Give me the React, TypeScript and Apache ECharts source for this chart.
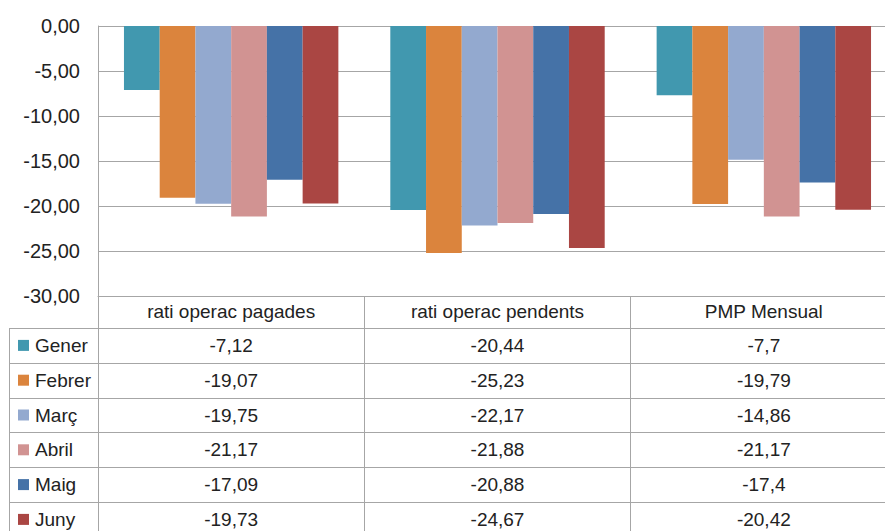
import React, { useEffect, useRef } from "react";
import * as echarts from "echarts";

const categories = ["rati operac pagades", "rati operac pendents", "PMP Mensual"];
const months = ["Gener", "Febrer", "Març", "Abril", "Maig", "Juny"];
const gener = [-7.12, -20.44, -7.7];
const febrer = [-19.07, -25.23, -19.79];
const marc = [-19.75, -22.17, -14.86];
const abril = [-21.17, -21.88, -21.17];
const maig = [-17.09, -20.88, -17.4];
const juny = [-19.73, -24.67, -20.42];
const tableLabels = [
  ["-7,12", "-20,44", "-7,7"],
  ["-19,07", "-25,23", "-19,79"],
  ["-19,75", "-22,17", "-14,86"],
  ["-21,17", "-21,88", "-21,17"],
  ["-17,09", "-20,88", "-17,4"],
  ["-19,73", "-24,67", "-20,42"],
];
const colors = ["#4198AF", "#DB843D", "#93A9CF", "#D19392", "#4572A7", "#AA4643"];
const yMin = -30;
const yMax = 0;
const yInterval = 5;

const FONT = "Liberation Sans";
const W = 900;
const H = 531;
const GL = 98;
const GR = 3;
const GT = 26;
const GB = 296;
const ROW0 = 328;
const ROWH = 34.8;
const TABLE_LEFT = 9;
const LINE = "#a6a6a6";
const TEXT = "#222";

export default function App() {
  const ref = useRef<HTMLDivElement>(null);
  useEffect(() => {
    if (!ref.current) return;
    const chart = echarts.init(ref.current, undefined, { renderer: "svg" });
    const seriesData = [gener, febrer, marc, abril, maig, juny];
    const gridW = W - GL - GR;
    const catW = gridW / categories.length;
    const right = W - GR;

    const graphics: any[] = [];
    for (let k = 0; k <= months.length; k++) {
      const y = Math.round(ROW0 + k * ROWH) + 0.5;
      graphics.push({
        type: "line",
        shape: { x1: TABLE_LEFT, y1: y, x2: right, y2: y },
        style: { stroke: LINE, lineWidth: 1 },
        silent: true,
      });
    }
    graphics.push({
      type: "line",
      shape: { x1: TABLE_LEFT + 0.5, y1: ROW0, x2: TABLE_LEFT + 0.5, y2: H },
      style: { stroke: LINE, lineWidth: 1 },
      silent: true,
    });
    months.forEach((m, i) => {
      const cy = ROW0 + (i + 0.5) * ROWH;
      graphics.push({
        type: "rect",
        shape: { x: 18, y: cy - 5.5, width: 11, height: 11 },
        style: { fill: colors[i] },
        silent: true,
      });
      graphics.push({
        type: "text",
        x: 35,
        y: cy,
        style: {
          text: m,
          fontFamily: FONT,
          fontSize: 19,
          fill: TEXT,
          verticalAlign: "middle",
          align: "left",
        },
        silent: true,
      });
      tableLabels[i].forEach((t, j) => {
        graphics.push({
          type: "text",
          x: GL + (j + 0.5) * catW,
          y: cy,
          style: {
            text: t,
            fontFamily: FONT,
            fontSize: 19,
            fill: TEXT,
            verticalAlign: "middle",
            align: "center",
          },
          silent: true,
        });
      });
    });

    chart.setOption({
      animation: false,
      textStyle: { fontFamily: FONT },
      grid: { left: GL, right: GR, top: GT, bottom: H - GB, containLabel: false },
      xAxis: {
        type: "category",
        data: categories,
        position: "bottom",
        axisLine: { show: true, onZero: false, lineStyle: { color: LINE, width: 1 } },
        axisTick: { show: true, inside: false, length: H - GB, lineStyle: { color: LINE } },
        axisLabel: { show: true, fontSize: 19, color: TEXT, margin: 6, fontFamily: FONT },
        splitLine: { show: false },
      },
      yAxis: {
        type: "value",
        min: yMin,
        max: yMax,
        interval: yInterval,
        axisLine: { show: true, lineStyle: { color: LINE, width: 1 } },
        axisTick: { show: false },
        splitLine: { show: true, lineStyle: { color: LINE, width: 1 } },
        axisLabel: {
          fontSize: 20,
          color: TEXT,
          margin: 18,
          fontFamily: FONT,
          formatter: (v: number) => v.toFixed(2).replace(".", ","),
        },
      },
      series: months.map((m, i) => ({
        name: m,
        type: "bar",
        data: seriesData[i],
        barGap: "0%",
        barCategoryGap: "19.5%",
        itemStyle: { color: colors[i] },
      })),
      graphic: graphics,
    });
    return () => chart.dispose();
  }, []);

  return (
    <div style={{ position: "fixed", left: 0, top: 0, width: 885, height: 531, overflow: "hidden", background: "#fff" }}>
      <div ref={ref} style={{ width: W, height: H }} />
    </div>
  );
}
